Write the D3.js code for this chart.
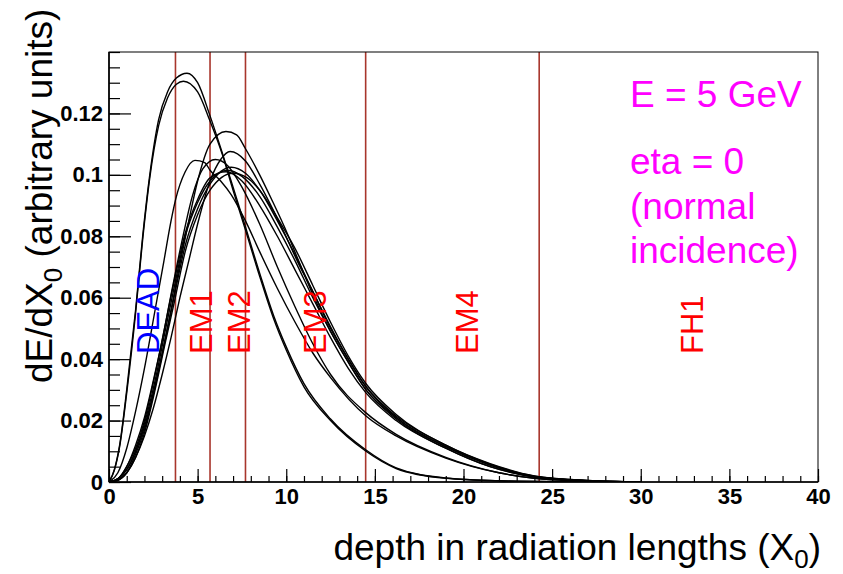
<!DOCTYPE html>
<html>
<head>
<meta charset="utf-8">
<script src="https://cdn.jsdelivr.net/npm/d3@7"></script>
<style>
  body { margin: 0; background: #fff; }
  svg { display: block; }
  .tick text { font-family: "Liberation Sans", Arial, sans-serif; font-weight: bold; font-size: 22px; fill: #000; }
  .axis path { display: none; }
  .axis line { stroke: #000; stroke-width: 1.2; }
  .curve { fill: none; stroke: #000; stroke-width: 1.4; }
</style>
</head>
<body>
<div id="chart"></div>
<script>
// axis ticks
var xTicks = [0, 5, 10, 15, 20, 25, 30, 35, 40];
var xTickLabels = ["0", "5", "10", "15", "20", "25", "30", "35", "40"];
var yTicks = [0, 0.02, 0.04, 0.06, 0.08, 0.1, 0.12];
var yTickLabels = ["0", "0.02", "0.04", "0.06", "0.08", "0.1", "0.12"];

// layer boundaries (X0) and layer names
var layerBounds = [3.75, 5.7, 7.7, 14.48, 24.27];
var layerNames = ["DEAD", "EM1", "EM2", "EM3", "EM4", "FH1"];
var layerLabelX = [2.82, 5.81, 7.95, 12.24, 20.8, 33.5];

var infoLines = ["E = 5 GeV", "eta = 0", "(normal", "incidence)"];

// shower profiles, [depth, dE/dX0]
var profileA1 = [[0,0],[0.3,0.004],[0.6,0.012],[1,0.03],[1.5,0.056],[1.9,0.08],[2.3,0.1],[2.8,0.118],[3.3,0.127],[3.8,0.1315],[4.4,0.1331],[5,0.13],[5.7,0.1192],[6.4,0.107],[7,0.096],[7.7,0.083],[8.5,0.068],[9.3,0.054],[10,0.044],[11,0.032],[12.5,0.0205],[14.5,0.0104],[16.2,0.0046],[19,0.0013],[22,0.0004],[25,0.0001],[29,0]];
var profileA2 = [[0,0],[0.3,0.0038],[0.6,0.0115],[1,0.029],[1.5,0.055],[1.9,0.079],[2.3,0.099],[2.8,0.116],[3.3,0.125],[3.8,0.1295],[4.2,0.1305],[5,0.127],[5.7,0.1175],[6.4,0.1065],[7,0.095],[7.7,0.082],[8.5,0.067],[9.3,0.053],[10,0.043],[11,0.031],[12.5,0.02],[14.5,0.01],[16.2,0.0044],[19,0.0012],[22,0.0004],[26,0.0001],[29,0]];
var profileB = [[0,0],[0.5,0.003],[1,0.011],[1.5,0.023],[2,0.037],[2.6,0.056],[3.1,0.072],[3.5,0.085],[3.76,0.092],[4.3,0.101],[4.85,0.1047],[5.4,0.104],[5.7,0.1015],[6.3,0.098],[6.9,0.0935],[7.7,0.085],[8.5,0.075],[9.5,0.063],[10.5,0.052],[11.5,0.042],[12.5,0.034],[14.5,0.0215],[16.2,0.015],[19,0.0078],[22,0.003],[24,0.0012],[27,0.0003],[30,0]];
var profileC = [[0,0],[0.5,0.001],[1,0.004],[1.5,0.01],[2,0.018],[2.5,0.029],[3,0.042],[3.5,0.056],[4,0.071],[4.5,0.085],[5,0.098],[5.7,0.11],[6.6,0.1141],[7.2,0.113],[7.7,0.1085],[8.5,0.1],[9.2,0.0917],[9.9,0.083],[10.7,0.072],[11.5,0.061],[12.5,0.049],[13.5,0.039],[14.5,0.03],[16.2,0.0205],[19,0.011],[21.5,0.005],[24,0.0017],[27,0.0004],[30,0]];
var profileD = [[0,0],[0.5,0.0005],[1,0.003],[1.5,0.008],[2,0.015],[2.5,0.024],[3,0.035],[3.5,0.047],[4,0.06],[4.5,0.072],[5,0.084],[5.7,0.098],[6.3,0.105],[6.83,0.1076],[7.7,0.1045],[8.5,0.097],[9.9,0.081],[10.7,0.071],[11.5,0.062],[12.5,0.05],[13.5,0.04],[14.5,0.031],[16.2,0.021],[19,0.0115],[21.5,0.0055],[24,0.0018],[27,0.0004],[30,0]];
var profileE = [[0,0],[0.5,0.001],[1,0.005],[1.5,0.012],[2,0.021],[2.5,0.033],[3,0.046],[3.5,0.061],[4.1,0.078],[4.7,0.093],[5.3,0.102],[6,0.105],[6.7,0.103],[7.5,0.096],[8.5,0.084],[9.5,0.07],[10.5,0.057],[11.5,0.045],[12.5,0.035],[14.5,0.0225],[16.2,0.0155],[19,0.008],[22,0.003],[24,0.0012],[27,0.0003],[30,0]];
var profileF1 = [[0,0],[0.5,0.001],[1,0.004],[1.5,0.01],[2,0.019],[2.6,0.033],[3.2,0.05],[3.7,0.064],[4.3,0.08],[5,0.091],[5.7,0.098],[6.7,0.1015],[7.5,0.0995],[8.5,0.093],[9.5,0.083],[10.5,0.072],[11.5,0.06],[12.5,0.049],[13.5,0.039],[14.5,0.03],[16.2,0.021],[19,0.0115],[21.5,0.0055],[24,0.0017],[27,0.0004],[30,0]];
var profileF2 = [[0,0],[0.5,0.0008],[1,0.003],[1.5,0.009],[2,0.017],[2.6,0.031],[3.2,0.047],[3.7,0.061],[4.3,0.077],[5,0.089],[5.7,0.097],[6.9,0.1025],[7.7,0.1005],[8.5,0.095],[9.5,0.085],[10.5,0.074],[11.5,0.062],[12.5,0.0505],[13.5,0.04],[14.5,0.031],[16.2,0.0215],[19,0.012],[21.5,0.0058],[24,0.0019],[27,0.0005],[30,0]];
var profileF3 = [[0,0],[0.5,0.001],[1,0.005],[1.5,0.011],[2,0.02],[2.6,0.035],[3.2,0.052],[3.7,0.066],[4.3,0.081],[5,0.092],[5.7,0.099],[6.6,0.101],[7.5,0.098],[8.5,0.09],[9.5,0.08],[10.5,0.069],[11.5,0.058],[12.5,0.047],[13.5,0.037],[14.5,0.029],[16.2,0.02],[19,0.011],[21.5,0.005],[24,0.0016],[27,0.0004],[30,0]];
var profileF4 = [[0,0],[0.5,0.0006],[1,0.003],[1.5,0.008],[2,0.016],[2.6,0.03],[3.2,0.046],[3.7,0.059],[4.3,0.075],[5,0.087],[5.7,0.095],[7,0.1005],[7.8,0.099],[8.5,0.095],[9.5,0.086],[10.5,0.076],[11.5,0.064],[12.5,0.052],[13.5,0.041],[14.5,0.032],[16.2,0.022],[19,0.012],[21.5,0.006],[24,0.002],[27,0.0005],[30,0]];

var profiles = [profileA1, profileA2, profileB, profileC, profileD, profileE, profileF1, profileF2, profileF3, profileF4];

var W = 843, H = 574;
var margin = { top: 52, right: 25, bottom: 92, left: 109 };
var width = W - margin.left - margin.right;
var height = H - margin.top - margin.bottom;

var xScale = d3.scaleLinear().domain([0, 40]).range([0, width]);
var yScale = d3.scaleLinear().domain([0, 0.14]).range([height, 0]);

var svg = d3.select("#chart").append("svg")
  .attr("width", W)
  .attr("height", H);

var g = svg.append("g")
  .attr("transform", "translate(" + margin.left + "," + margin.top + ")");

g.append("defs").append("clipPath").attr("id", "frame-clip")
  .append("rect").attr("width", width).attr("height", height);

// layer boundary lines
g.selectAll(".layer")
  .data(layerBounds)
  .enter().append("line")
  .attr("class", "layer")
  .attr("x1", d => xScale(d)).attr("x2", d => xScale(d))
  .attr("y1", 0).attr("y2", height)
  .attr("stroke", "#a8362c")
  .attr("stroke-width", 1.6);

// profiles
var line = d3.line()
  .x(d => xScale(d[0]))
  .y(d => yScale(d[1]))
  .curve(d3.curveMonotoneX);

g.append("g").attr("clip-path", "url(#frame-clip)")
  .selectAll(".curve")
  .data(profiles)
  .enter().append("path")
  .attr("class", "curve")
  .attr("d", line);

// frame
g.append("rect")
  .attr("width", width).attr("height", height)
  .attr("fill", "none").attr("stroke", "#000").attr("stroke-width", 1);

// x axis: minor then major ticks pointing inside
g.append("g").attr("class", "axis")
  .attr("transform", "translate(0," + height + ")")
  .call(d3.axisBottom(xScale).tickValues(d3.range(0, 41, 1)).tickSize(-6).tickFormat(""));
g.append("g").attr("class", "axis x")
  .attr("transform", "translate(0," + height + ")")
  .call(d3.axisBottom(xScale).tickValues(xTicks).tickSize(-13).tickPadding(6)
    .tickFormat((d, i) => xTickLabels[i]));

// y axis
g.append("g").attr("class", "axis")
  .call(d3.axisLeft(yScale).tickValues(d3.range(0, 0.1401, 0.005)).tickSize(-11).tickFormat(""));
g.append("g").attr("class", "axis y")
  .call(d3.axisLeft(yScale).tickValues(yTicks).tickSize(-22).tickPadding(6)
    .tickFormat((d, i) => yTickLabels[i]));

g.append("line").attr("x1", 0).attr("x2", width).attr("y1", height).attr("y2", height)
  .attr("stroke", "#000").attr("stroke-width", 1.6);
g.append("line").attr("x1", 0).attr("x2", 0).attr("y1", 0).attr("y2", height)
  .attr("stroke", "#000").attr("stroke-width", 1.6);

// layer names, vertical
g.selectAll(".lname")
  .data(layerNames)
  .enter().append("text")
  .attr("class", "lname")
  .attr("transform", (d, i) => "translate(" + xScale(layerLabelX[i]) + "," + 302 + ") rotate(-90)")
  .attr("font-family", "Liberation Sans, Arial, sans-serif")
  .attr("font-size", 31)
  .attr("fill", d => d === "DEAD" ? "#0000ff" : "#ff0000")
  .text(d => d);

// info text
var infoY = [55, 122, 167, 211];
g.selectAll(".info")
  .data(infoLines)
  .enter().append("text")
  .attr("class", "info")
  .attr("x", 521)
  .attr("y", (d, i) => infoY[i])
  .attr("font-family", "Liberation Sans, Arial, sans-serif")
  .attr("font-size", 37)
  .attr("fill", "#ff00ff")
  .text(d => d);

// axis titles
var xt = svg.append("text")
  .attr("x", 821).attr("y", 560)
  .attr("text-anchor", "end")
  .attr("font-family", "Liberation Sans, Arial, sans-serif")
  .attr("font-size", 37)
  .attr("fill", "#000");
xt.append("tspan").text("depth in radiation lengths (X");
xt.append("tspan").attr("font-size", 26).attr("dy", 8).text("0");
xt.append("tspan").attr("dy", -8).text(")");

var yt = svg.append("text")
  .attr("transform", "translate(52,383) rotate(-90)")
  .attr("text-anchor", "start")
  .attr("font-family", "Liberation Sans, Arial, sans-serif")
  .attr("font-size", 37)
  .attr("fill", "#000");
yt.append("tspan").text("dE/dX");
yt.append("tspan").attr("font-size", 26).attr("dy", 10).text("0");
yt.append("tspan").attr("dy", -10).text(" (arbitrary units)");
</script>
</body>
</html>
